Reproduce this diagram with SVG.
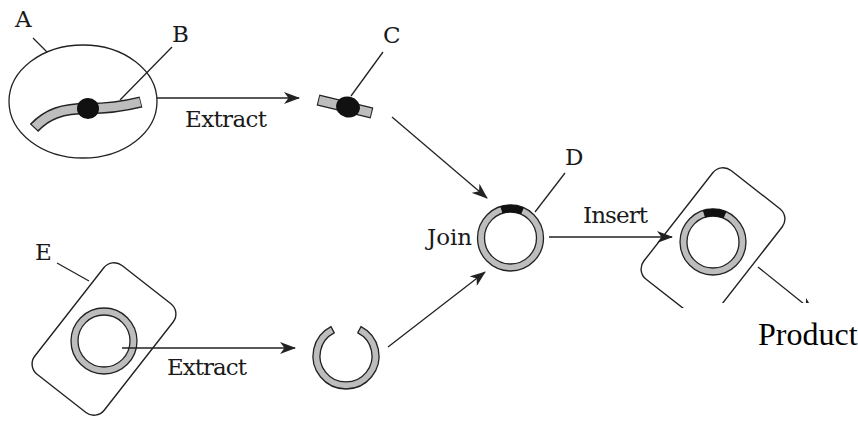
<svg xmlns="http://www.w3.org/2000/svg" width="858" height="421" viewBox="0 0 858 421">
  <style>
    .ln { fill: none; stroke: #222; stroke-width: 1.3; }
    .lbl { font-family: "DejaVu Serif", "Liberation Serif", serif; font-size: 23px; fill: #1a1a1a; }
    .tube-o { fill: none; stroke: #222; stroke-width: 11.5; stroke-linecap: butt; }
    .tube-i { fill: none; stroke: #bdbdbd; stroke-width: 8.5; stroke-linecap: butt; }
    .cell { fill: none; stroke: #222; stroke-width: 1.4; }
  </style>
  <defs>
    <marker id="ah" viewBox="0 0 16 12" refX="15" refY="6" markerWidth="16" markerHeight="12" markerUnits="userSpaceOnUse" orient="auto">
      <path d="M0,0 L16,6 L0,12 L4.5,6 Z" fill="#222"/>
    </marker>
    <!-- closed plasmid ring -->
    <g id="ring">
      <circle r="29.5" fill="none" stroke="#bdbdbd" stroke-width="7"/>
      <circle r="33" fill="none" stroke="#222" stroke-width="1.3"/>
      <circle r="26" fill="none" stroke="#222" stroke-width="1.3"/>
    </g>
    <!-- ring carrying the inserted gene -->
    <g id="ring-ins">
      <use href="#ring"/>
      <path d="M-9.1,-28.1 A29.5,29.5 0 0 1 12,-27" fill="none" stroke="#111" stroke-width="7.5"/>
    </g>
    <clipPath id="cut">
      <path d="M0,0 H858 V303 H684 V308 H0 Z"/>
    </clipPath>
  </defs>

  <!-- source cell A with chromosome B -->
  <g id="node-A">
    <ellipse cx="83" cy="101.5" rx="74" ry="56.5" class="ln"/>
    <line x1="33" y1="38" x2="47" y2="52" class="ln"/>
    <text x="15" y="27" class="lbl" textLength="18">A</text>
  </g>
  <g id="node-B">
    <path d="M34,128 C47,114 62,108.5 88,108.5 C108,108.5 125,106 141,102" class="tube-o"/>
    <path d="M34.8,127.2 C47,114 62,108.5 88,108.5 C108,108.5 125,106 140.2,102.2" class="tube-i"/>
    <ellipse cx="88" cy="108.5" rx="11" ry="10.5" fill="#111"/>
    <line x1="120" y1="100" x2="172" y2="47" class="ln"/>
    <text x="172" y="42" class="lbl" textLength="16">B</text>
  </g>

  <!-- extracted gene fragment C -->
  <g id="node-C">
    <path d="M318,100 L372,113" class="tube-o"/>
    <path d="M319,100.25 L371,112.75" class="tube-i"/>
    <ellipse cx="348" cy="107" rx="12" ry="10.5" transform="rotate(13 348 107)" fill="#111"/>
    <line x1="351" y1="96" x2="383" y2="52" class="ln"/>
    <text x="383" y="43" class="lbl" textLength="17">C</text>
  </g>

  <!-- recombinant plasmid D -->
  <g id="node-D">
    <use href="#ring-ins" x="510.5" y="238"/>
    <line x1="535" y1="212" x2="565" y2="173" class="ln"/>
    <text x="565" y="165" class="lbl" textLength="20">D</text>
  </g>

  <!-- host cell E with plasmid -->
  <g id="node-E">
    <rect x="-44" y="-69" width="88" height="138" rx="13" transform="translate(104 339) rotate(38)" class="cell"/>
    <use href="#ring" x="104" y="341"/>
    <line x1="57" y1="263" x2="89" y2="281" class="ln"/>
    <text x="35" y="260" class="lbl" textLength="15">E</text>
  </g>

  <!-- opened plasmid -->
  <g id="node-open">
    <path d="M361,326.6 A33,33 0 1 1 331,326.6 L334.2,332.8 A26,26 0 1 0 357.8,332.8 Z" fill="#bdbdbd" stroke="#222" stroke-width="1.3"/>
  </g>

  <!-- transformed host cell -->
  <g id="node-host" clip-path="url(#cut)">
    <rect x="-44" y="-69" width="88" height="138" rx="13" transform="translate(713 244) rotate(38)" class="cell"/>
    <use href="#ring-ins" x="713" y="242"/>
  </g>

  <g id="connectors">
    <line x1="157" y1="98" x2="299" y2="98" class="ln" marker-end="url(#ah)"/>
    <line x1="392" y1="117" x2="487" y2="198" class="ln" marker-end="url(#ah)"/>
    <line x1="122" y1="348" x2="295" y2="348" class="ln" marker-end="url(#ah)"/>
    <line x1="388" y1="347" x2="485" y2="272" class="ln" marker-end="url(#ah)"/>
    <line x1="549" y1="237" x2="672" y2="237" class="ln" marker-end="url(#ah)"/>
    <g clip-path="url(#cut)">
      <line x1="758" y1="267" x2="814" y2="312" class="ln" marker-end="url(#ah)"/>
    </g>
  </g>

  <g id="labels">
    <text x="185" y="127" class="lbl" textLength="82">Extract</text>
    <text x="167" y="375" class="lbl" textLength="80">Extract</text>
    <text x="427" y="245" class="lbl" textLength="45">Join</text>
    <text x="583" y="223" class="lbl" textLength="65">Insert</text>
    <text x="758" y="345" font-family="Liberation Serif, serif" font-size="32" fill="#000">Product</text>
  </g>
</svg>
